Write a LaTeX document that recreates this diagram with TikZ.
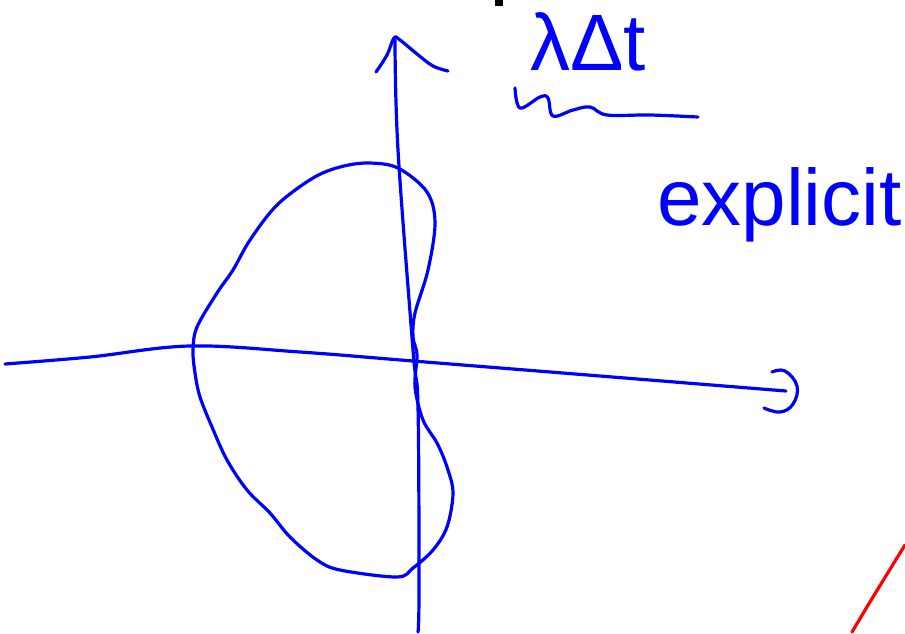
\documentclass[tikz,border=0pt]{standalone}
\usepackage{fontspec}
\setmainfont{Liberation Sans}
\begin{document}
\begin{tikzpicture}[x=1pt, y=-1pt,
    % Estilos
    ink/.style={
        draw=blue, line width=3.2pt, line cap=round, line join=round
    },
    redink/.style={
        draw=red, line width=3.2pt, line cap=round
    },
    hand/.style={
        text=blue, inner sep=0pt, anchor=base west, font=#1
    }
]
\useasboundingbox (0,0) rectangle (905,633);

% =============================================
% EJES
% =============================================
\draw[ink] plot[smooth, tension=0.6] coordinates {
    (5,364) (90,357) (190,346) (300,352) (413,361) (600,376) (786,391)};
\draw[ink] plot[smooth, tension=0.7] coordinates {
    (772,372) (785,371) (797,386) (793,404) (780,412) (764,408)};

\draw[ink] plot[smooth, tension=0.6] coordinates {
    (418,632) (419,590) (418,407) (413,350) (398,150) (395,40)};
\draw[ink] plot[smooth, tension=0.6] coordinates {
    (376,72) (387,55) (394,38) (400,40) (417,54) (433,66) (448,71)};

% =============================================
% REGION DE ESTABILIDAD
% =============================================
\draw[ink] plot[smooth cycle, tension=0.55] coordinates {
    (368,163) (398,168) (427,192) (435,223) (428,270) (415,313)
    (413,337) (417,355) (415,387) (423,420) (437,443) (447,467)
    (453,493) (447,527) (433,550) (413,568) (397,577) (340,570)
    (317,560) (290,537) (270,513) (247,490) (227,460) (212,427)
    (200,397) (195,373) (193,350) (197,327) (217,293) (233,270)
    (250,240) (277,205) (313,178) (340,167)};

% =============================================
% ETIQUETAS
% =============================================
\fill[black] (495,0) rectangle (503,6);

\node[hand={\fontsize{80}{80}\selectfont}] (lam) at (530,70) {λΔt};
\draw[ink] plot[smooth, tension=0.6] coordinates {
    (515,88) (520,108) (540,97) (548,98) (553,116) (573,110)
    (590,107) (607,115) (650,115) (698,117)};

\node[hand={\fontsize{80}{80}\selectfont}] (expl) at (657,225) {explicit};

% =============================================
% LINEA ROJA
% =============================================
\draw[redink] plot[smooth, tension=0.6] coordinates {
    (852,632) (873,597) (905,545)};

\end{tikzpicture}
\end{document}
